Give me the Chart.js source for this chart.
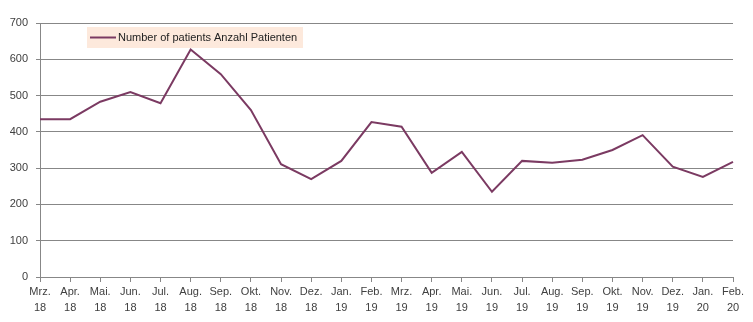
<!DOCTYPE html>
<html>
<head>
<meta charset="utf-8">
<script src="https://cdn.jsdelivr.net/npm/chart.js@4/dist/chart.umd.min.js"></script>
<style>
  html, body { margin: 0; padding: 0; background: #ffffff; }
  #wrap { width: 753px; height: 322px; }
</style>
</head>
<body>
<div id="wrap"><canvas id="c" width="753" height="322"></canvas></div>
<script>
// Monthly patient counts, March 2018 – February 2020
const months = ['Mrz.', 'Apr.', 'Mai.', 'Jun.', 'Jul.', 'Aug.', 'Sep.', 'Okt.', 'Nov.', 'Dez.', 'Jan.', 'Feb.',
                'Mrz.', 'Apr.', 'Mai.', 'Jun.', 'Jul.', 'Aug.', 'Sep.', 'Okt.', 'Nov.', 'Dez.', 'Jan.', 'Feb.'];
const years = ['18', '18', '18', '18', '18', '18', '18', '18', '18', '18', '19', '19',
               '19', '19', '19', '19', '19', '19', '19', '19', '19', '19', '20', '20'];
const patients = [435, 435, 483, 510, 479, 627, 559, 460, 311, 270, 320, 427,
                  414, 287, 345, 235, 320, 315, 323, 350, 391, 304, 276, 317];
const seriesLabel = 'Number of patients Anzahl Patienten';
const yTicks = [0, 100, 200, 300, 400, 500, 600, 700];

const categories = months.map((m, i) => [m, years[i]]);
const lineColor = '#7b3a62';
const gridColor = '#878787';
const textColor = '#404040';
const fontFamily = '"Liberation Sans", Arial, sans-serif';

// Legend drawn as a shaded box inside the plot area
const boxedLegend = {
  id: 'boxedLegend',
  afterDatasetsDraw(chart) {
    const ctx = chart.ctx;
    const x = 87, y = 27, w = 216, h = 21;
    ctx.save();
    ctx.fillStyle = '#fde9dc';
    ctx.fillRect(x, y, w, h);
    ctx.strokeStyle = lineColor;
    ctx.lineWidth = 2;
    ctx.beginPath();
    ctx.moveTo(x + 3, y + h / 2);
    ctx.lineTo(x + 29, y + h / 2);
    ctx.stroke();
    ctx.fillStyle = '#222222';
    ctx.font = '11px ' + fontFamily;
    ctx.textBaseline = 'middle';
    ctx.textAlign = 'left';
    ctx.fillText(chart.data.datasets[0].label, x + 31, y + h / 2 + 0.5);
    ctx.restore();
  }
};

new Chart(document.getElementById('c'), {
  type: 'line',
  data: {
    labels: categories,
    datasets: [{
      label: seriesLabel,
      data: patients,
      borderColor: lineColor,
      borderWidth: 2,
      pointRadius: 0,
      tension: 0,
      fill: false
    }]
  },
  options: {
    responsive: false,
    animation: false,
    layout: { padding: { top: 23, right: 20, bottom: 0, left: 0 } },
    plugins: {
      legend: { display: false },
      tooltip: { enabled: false }
    },
    scales: {
      x: {
        offset: false,
        grid: { drawOnChartArea: false, drawTicks: true, tickLength: 5, color: gridColor },
        border: { color: gridColor, width: 1 },
        ticks: {
          color: textColor,
          font: { family: fontFamily, size: 11, lineHeight: 1.45 },
          maxRotation: 0,
          autoSkip: false,
          padding: 2
        },
        afterFit(scale) { scale.height = 45; }
      },
      y: {
        min: 0,
        max: 700,
        afterBuildTicks(scale) { scale.ticks = yTicks.map(v => ({ value: v })); },
        grid: { color: gridColor, tickLength: 4, drawTicks: true },
        border: { color: gridColor, width: 1 },
        ticks: {
          color: textColor,
          font: { family: fontFamily, size: 11 },
          padding: 8
        },
        afterFit(scale) { scale.width = 40; }
      }
    }
  },
  plugins: [boxedLegend]
});
</script>
</body>
</html>
